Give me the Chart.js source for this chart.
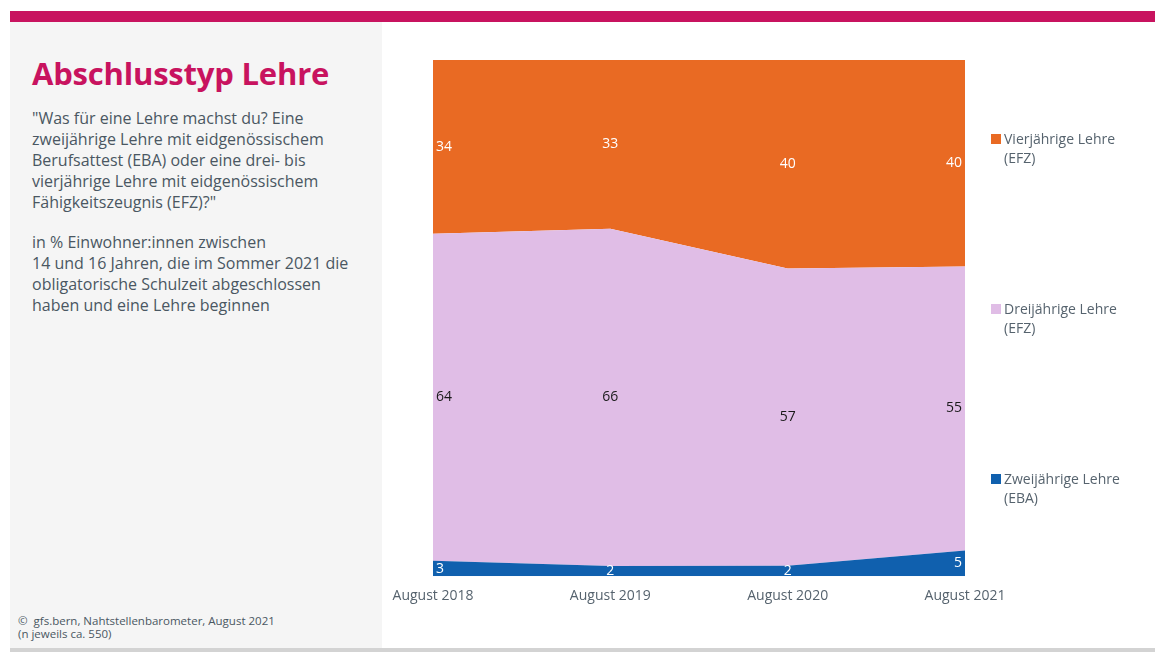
<!DOCTYPE html>
<html>
<head>
<meta charset="utf-8">
<script src="https://cdn.jsdelivr.net/npm/chart.js@4"></script>
<style>
    body { margin: 0; width: 1155px; height: 652px; background: #fff; position: relative; overflow: hidden; font-family: "Open Sans", sans-serif; }
    #topbar { position: absolute; left: 10px; top: 11px; width: 1145px; height: 11px; background: #c8135f; }
    #side { position: absolute; left: 10px; top: 22px; width: 372px; height: 626px; background: #f5f5f5; }
    #bottomline { position: absolute; left: 10px; top: 648px; width: 1145px; height: 4px; background: #d3d3d3; }
    h1 { position: absolute; left: 22px; top: 30px; margin: 0; font-size: 31px; font-weight: 700; color: #c8135f; letter-spacing: -0.2px; }
    .txt { position: absolute; left: 22px; margin: 0; font-size: 16px; line-height: 21px; color: #4a5762; }
    .foot { position: absolute; left: 8px; top: 592px; font-size: 11.5px; line-height: 13px; color: #4a5762; }
    #chartbox { position: absolute; left: 382px; top: 22px; width: 773px; height: 626px; }
    .leg { position: absolute; left: 991px; font-size: 14px; line-height: 19px; color: #56636e; }
    .leg span.sq { position: absolute; left: 0; top: 5px; width: 10px; height: 10px; }
    .leg span.t { display: block; margin-left: 13px; }
</style>
</head>
<body>
<div id="topbar"></div>
<div id="side">
    <h1>Abschlusstyp Lehre</h1>
    <p class="txt" style="top:86px">"Was für eine Lehre machst du? Eine<br>zweijährige Lehre mit eidgenössischem<br>Berufsattest (EBA) oder eine drei- bis<br>vierjährige Lehre mit eidgenössischem<br>Fähigkeitszeugnis (EFZ)?"</p>
    <p class="txt" style="top:210px">in % Einwohner:innen zwischen<br>14 und 16 Jahren, die im Sommer 2021 die<br>obligatorische Schulzeit abgeschlossen<br>haben und eine Lehre beginnen</p>
    <div class="foot">©&nbsp; gfs.bern, Nahtstellenbarometer, August 2021<br>(n jeweils ca. 550)</div>
</div>
<div id="bottomline"></div>
<div id="chartbox"><canvas id="chart"></canvas></div>
<div class="leg" style="top:129px"><span class="sq" style="background:#e96a23"></span><span class="t">Vierjährige Lehre<br>(EFZ)</span></div>
<div class="leg" style="top:299px"><span class="sq" style="background:#e0bde6"></span><span class="t">Dreijährige Lehre<br>(EFZ)</span></div>
<div class="leg" style="top:469px"><span class="sq" style="background:#1060ae"></span><span class="t">Zweijährige Lehre<br>(EBA)</span></div>
<script>
// data
const years = ['August 2018', 'August 2019', 'August 2020', 'August 2021'];
const zweijaehrig = [3, 2, 2, 5];
const dreijaehrig = [64, 66, 57, 55];
const vierjaehrig = [34, 33, 40, 40];

// scale each year to 100%
const totals = years.map((y, i) => zweijaehrig[i] + dreijaehrig[i] + vierjaehrig[i]);
function share(arr) {
    return arr.map((v, i) => v / totals[i] * 100);
}

const series = [
    { label: 'Zweijährige Lehre (EBA)', raw: zweijaehrig, color: '#1060ae', text: '#ffffff' },
    { label: 'Dreijährige Lehre (EFZ)', raw: dreijaehrig, color: '#e0bde6', text: '#1a1a1a' },
    { label: 'Vierjährige Lehre (EFZ)', raw: vierjaehrig, color: '#e96a23', text: '#ffffff' }
];

// value labels in the middle of each band
const bandLabels = {
    id: 'bandLabels',
    afterDatasetsDraw(chart) {
        const ctx = chart.ctx;
        const bottom = chart.chartArea.bottom;
        ctx.save();
        ctx.font = '14px "Open Sans", sans-serif';
        ctx.textBaseline = 'middle';
        chart.data.datasets.forEach((ds, d) => {
            const meta = chart.getDatasetMeta(d);
            const below = d > 0 ? chart.getDatasetMeta(d - 1) : null;
            meta.data.forEach((pt, i) => {
                const lower = below ? below.data[i].y : bottom;
                const y = (pt.y + lower) / 2;
                let x = pt.x;
                if (i === 0) { ctx.textAlign = 'left'; x += 3; }
                else if (i === meta.data.length - 1) { ctx.textAlign = 'right'; x -= 3; }
                else ctx.textAlign = 'center';
                ctx.fillStyle = series[d].text;
                ctx.fillText(String(series[d].raw[i]), x, y);
            });
        });
        ctx.restore();
    }
};

new Chart(document.getElementById('chart'), {
    type: 'line',
    data: {
        labels: years,
        datasets: series.map((s, d) => ({
            label: s.label,
            data: share(s.raw),
            backgroundColor: s.color,
            borderColor: s.color,
            borderWidth: 0,
            pointRadius: 0,
            tension: 0,
            fill: d === 0 ? 'origin' : '-1'
        }))
    },
    options: {
        responsive: true,
        maintainAspectRatio: false,
        animation: false,
        layout: { padding: { left: 51, right: 190, top: 38, bottom: 41 } },
        plugins: { legend: { display: false }, tooltip: { enabled: false } },
        scales: {
            x: {
                offset: false,
                grid: { display: false },
                border: { display: false },
                ticks: { color: '#56636e', font: { family: 'Open Sans', size: 14 }, padding: 3, maxRotation: 0 }
            },
            y: {
                display: false,
                stacked: true,
                min: 0,
                max: 100
            }
        }
    },
    plugins: [bandLabels]
});
</script>
</body>
</html>
